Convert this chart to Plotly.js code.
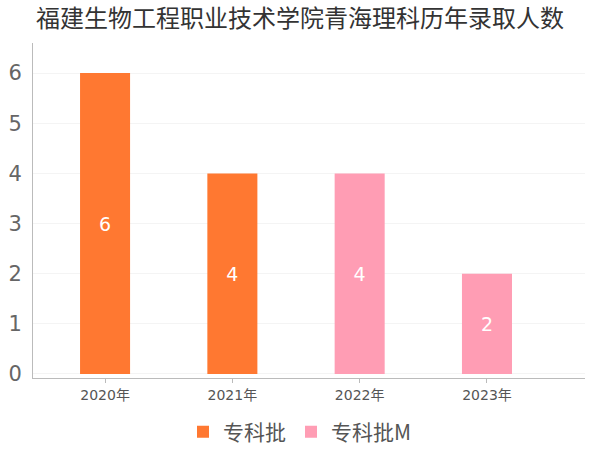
<!DOCTYPE html>
<html>
<head>
<meta charset="utf-8">
<script src="https://cdn.plot.ly/plotly-3.0.1.min.js"></script>
<style>html,body{margin:0;padding:0;background:#fff;}#chart{width:600px;height:450px;}</style>
</head>
<body>
<div id="chart"></div>
<script>
const categories = ['2020年', '2021年', '2022年', '2023年'];
const seriesNames = ['专科批', '专科批M'];
const seriesA = [6, 4, null, null];
const seriesB = [null, null, 4, 2];
const titleText = '福建生物工程职业技术学院青海理科历年录取人数';

const FONT = 'DejaVu Sans, Noto Sans CJK SC, sans-serif';
const CJK = 'Noto Sans CJK SC, DejaVu Sans, sans-serif';

function mk(name, vals, color) {
  return {
    type: 'bar', name: name, x: categories, y: vals,
    marker: {color: color},
    width: 0.393,
    text: vals.map(v => v === null ? '' : String(v)),
    textposition: 'inside', insidetextanchor: 'middle',
    textfont: {color: '#ffffff', size: 19, family: FONT},
    hoverinfo: 'x+y'
  };
}

const data = [mk(seriesNames[0], seriesA, '#ff7831'), mk(seriesNames[1], seriesB, '#ff9db4')];

const layout = {
  width: 600, height: 450,
  margin: {l: 33, r: 15, t: 43, b: 72, autoexpand: false},
  paper_bgcolor: '#ffffff', plot_bgcolor: '#ffffff',
  barmode: 'overlay',
  showlegend: true,
  title: {text: titleText, x: 0.5, xanchor: 'center', xref: 'container', y: 1 - 19 / 450, yanchor: 'middle', yref: 'container',
          font: {family: CJK, size: 24, color: '#333333'}},
  xaxis: {
    type: 'category', range: [-0.566, 3.77],
    showline: true, linecolor: '#bbbbbb', linewidth: 1,
    ticks: 'outside', ticklen: 4, tickcolor: '#bbbbbb',
    showgrid: false, zeroline: false,
    tickfont: {family: FONT, size: 14, color: '#555555'}
  },
  yaxis: {
    range: [-0.08, 6.6], dtick: 1, tick0: 0,
    showline: true, linecolor: '#bbbbbb', linewidth: 1,
    showgrid: true, gridcolor: '#f4f4f4', zeroline: false,
    ticks: '', ticklabelstandoff: 6,
    tickfont: {family: FONT, size: 21, color: '#666666'}
  },
  legend: {orientation: 'h', x: 0.5, xanchor: 'center', xref: 'container', y: 1 - 432 / 450, yanchor: 'middle', yref: 'container',
           font: {family: CJK, size: 21, color: '#555555'}, itemwidth: 30, tracegroupgap: 0}
};

Plotly.newPlot('chart', data, layout, {displayModeBar: false, staticPlot: true});
</script>
</body>
</html>
